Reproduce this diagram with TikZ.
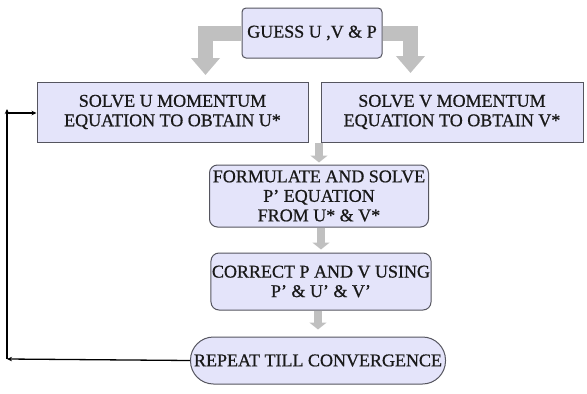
\documentclass[tikz,border=0pt]{standalone}
\usepackage{fontspec}
\setmainfont{Liberation Serif}
\newfontfamily\boxfont{Liberation Serif}[Ligatures=TeX,FakeBold=0.7]
\usetikzlibrary{arrows.meta}
\definecolor{boxfill}{RGB}{228,228,250}
\definecolor{boxline}{RGB}{85,85,95}
\definecolor{flowgrey}{RGB}{192,192,192}

\begin{document}
\begin{tikzpicture}[x=1pt,y=-1pt,
	stepbox/.style={draw=boxline,fill=boxfill,line width=1pt,align=center,text=black!90,
	inner sep=1pt,font=\boxfont\fontsize{18}{19.5}\selectfont},
	bigflow/.style={draw=flowgrey,line width=15pt,-{Triangle[width=28pt,length=17pt]}},
	smallflow/.style={draw=flowgrey,line width=8pt,-{Triangle[width=17pt,length=7pt]}},
	loopback/.style={draw=black,line width=1.3pt,-{Stealth[length=5pt,width=4.5pt]}}]
\useasboundingbox (0,0) rectangle (587,394);
\node[stepbox,rounded corners=4pt,minimum width=140pt,minimum height=50pt] (guess) at (312,33) {GUESS U ,V \& P};
\node[stepbox,minimum width=271pt,minimum height=60pt] (su) at (172.5,112) {SOLVE U MOMENTUM\\EQUATION TO OBTAIN U*};
\node[stepbox,minimum width=262pt,minimum height=60pt] (sv) at (452,112) {SOLVE V MOMENTUM\\EQUATION TO OBTAIN V*};
\node[stepbox,rounded corners=8pt,minimum width=219pt,minimum height=62pt] (form) at (319,196) {FORMULATE AND SOLVE\\P' EQUATION\\FROM U* \& V*};
\node[stepbox,rounded corners=8pt,minimum width=219pt,minimum height=57pt] (corr) at (321,281.5) {CORRECT P AND V USING\\P' \& U' \& V'};
\node[stepbox,rounded corners=23pt,minimum width=255pt,minimum height=47pt] (rep) at (318,360.5) {REPEAT TILL CONVERGENCE};
\coordinate (lhead) at (205.5,75);
\coordinate (rhead) at (410.5,73);
\coordinate (cornerlow) at (7,359);
\coordinate (cornerhigh) at (7,113);
\draw[bigflow] (guess.west) -| (lhead);
\draw[bigflow] (guess.east) -| (rhead);
\draw[smallflow,shorten >=2pt] (form.north |- su.south) -- (form.north);
\draw[smallflow,shorten >=3pt] (form.south -| corr.north) -- (corr.north);
\draw[smallflow,shorten >=7pt] (corr.south -| rep.north) -- (rep.north);
\draw[loopback] (rep.west) -- (cornerlow);
\draw[loopback,shorten >=-1pt] (cornerlow) -- ([yshift=3pt]cornerhigh);
\draw[loopback] ([xshift=-0.6pt]cornerhigh) -- (cornerhigh -| su.west);
\end{tikzpicture}
\end{document}
